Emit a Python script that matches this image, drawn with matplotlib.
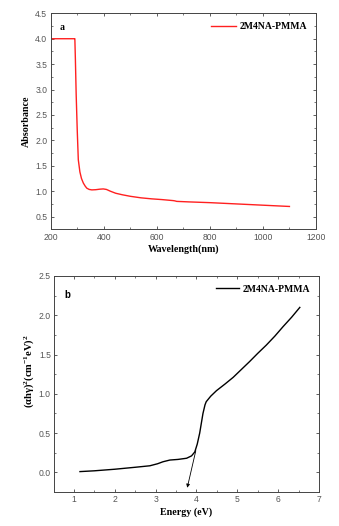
import numpy as np
import matplotlib
matplotlib.use("Agg")
import matplotlib.pyplot as plt

# panel a: UV-vis absorbance
wl = [200, 250, 288, 291, 293, 296, 300, 304, 310, 316, 323, 330, 336, 345, 355, 370, 385, 398, 410, 425,
      445, 470, 500, 540, 580, 620, 662, 668, 675, 720, 800, 880, 960, 1040, 1100]
absb = [4.0, 4.0, 4.0, 4.0, 3.6, 2.9, 2.2, 1.62, 1.38, 1.25, 1.16, 1.10, 1.06, 1.035, 1.026, 1.03, 1.04, 1.045,
        1.035, 1.0, 0.96, 0.93, 0.90, 0.87, 0.85, 0.835, 0.815, 0.81, 0.80, 0.79, 0.775, 0.755, 0.735, 0.715, 0.70]

# panel b: Tauc plot
en = [1.15, 1.5, 2.0, 2.5, 2.86, 3.05, 3.18, 3.35, 3.55, 3.76, 3.88, 3.96, 4.02, 4.08, 4.16, 4.21, 4.24,
      4.35, 4.49, 4.7, 4.9, 5.1, 5.3, 5.5, 5.71, 5.92, 6.12, 6.33, 6.53]
tauc = [0.01, 0.02, 0.04, 0.065, 0.084, 0.11, 0.135, 0.157, 0.165, 0.18, 0.21, 0.26, 0.36, 0.50, 0.75, 0.86, 0.90,
        0.97, 1.04, 1.125, 1.21, 1.31, 1.41, 1.515, 1.62, 1.735, 1.855, 1.975, 2.10]

plt.rcParams['font.family'] = 'Liberation Sans'
plt.rcParams['font.size'] = 6.2
plt.rcParams['mathtext.fontset'] = 'custom'
plt.rcParams['mathtext.rm'] = 'Liberation Serif:bold'
plt.rcParams['mathtext.it'] = 'Liberation Serif:bold'
plt.rcParams['mathtext.bf'] = 'Liberation Serif:bold'

fig = plt.figure(figsize=(3.39, 5.26), dpi=100)
ax1 = fig.add_axes([0.1496, 0.564, 0.7824, 0.4107])
ax2 = fig.add_axes([0.160, 0.0646, 0.781, 0.4107])

serif = dict(family='Liberation Serif', weight='bold')

def style(ax):
    ax.tick_params(which='both', direction='in', top=True, right=True, colors='#444444', labelcolor='#555555',
                   labelsize=6.2, pad=2.5)
    ax.tick_params(which='major', length=2.5, width=0.6)
    ax.tick_params(which='minor', length=1.5, width=0.5)
    for s in ax.spines.values():
        s.set_color('#444444')
        s.set_linewidth(0.7)

ax1.plot(wl, absb, color='#ff2020', lw=1.0, label='2M4NA-PMMA')
ax1.set_xlim(200, 1200)
ax1.set_ylim(0.25, 4.5)
ax1.set_xticks(np.arange(200, 1201, 200))
ax1.set_xticks(np.arange(300, 1200, 200), minor=True)
ax1.set_yticks(np.arange(0.5, 4.51, 0.5))
ax1.set_yticks(np.arange(0.75, 4.5, 0.5), minor=True)
style(ax1)
ax1.set_xlabel('Wavelength(nm)', fontsize=7.2, labelpad=2, **serif)
ax1.set_ylabel('Absorbance', fontsize=7.2, labelpad=3, **serif)
ax1.text(0.035, 0.925, 'a', transform=ax1.transAxes, fontsize=7, **serif)
ax1.legend(loc='upper right', frameon=False, prop=dict(size=7, **serif), handlelength=2.6,
           handletextpad=0.4, borderaxespad=0.5)

ax2.plot(en, tauc, color='black', lw=1.0, label='2M4NA-PMMA')
ax2.annotate('', xy=(3.76, -0.23), xytext=(4.0, 0.31),
             arrowprops=dict(arrowstyle='-|>', color='black', lw=0.6, mutation_scale=5))
ax2.set_xlim(0.52, 7)
ax2.set_ylim(-0.25, 2.5)
ax2.set_xticks(np.arange(1, 8, 1))
ax2.set_xticks(np.arange(1.5, 7, 0.5), minor=True)
ax2.set_yticks(np.arange(0, 2.51, 0.5))
ax2.set_yticks(np.arange(0.25, 2.5, 0.5), minor=True)
style(ax2)
ax2.set_xlabel('Energy (eV)', fontsize=7.2, labelpad=2, **serif)
ax2.set_ylabel(r'$(\alpha h\gamma)^2(\mathrm{cm}^{-1}\mathrm{eV})^2$', fontsize=7.6, **serif)
ax2.yaxis.set_label_coords(-0.07, 0.56)
ax2.text(0.04, 0.9, 'b', transform=ax2.transAxes, fontsize=7, family='Liberation Sans', weight='bold')
ax2.legend(loc='upper right', frameon=False, prop=dict(size=7, **serif), handlelength=2.3,
           handletextpad=0.4, borderaxespad=0.5)

fig.savefig('out.png', dpi=100)
